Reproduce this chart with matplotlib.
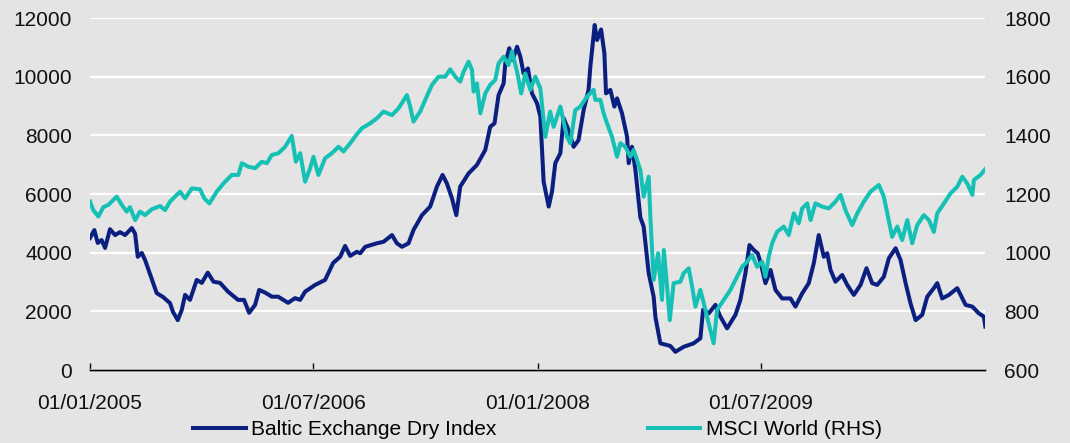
import numpy as np
import pandas as pd
import matplotlib
matplotlib.use('Agg')
from matplotlib import pyplot as plt

# Baltic Exchange Dry Index (left axis), dates as decimal years
bdi_years = [2005.000, 2005.029, 2005.052, 2005.078, 2005.101, 2005.134, 2005.168, 2005.201,
             2005.235, 2005.280, 2005.302, 2005.320, 2005.347, 2005.369, 2005.447, 2005.489,
             2005.536, 2005.556, 2005.588, 2005.615, 2005.637, 2005.670, 2005.715, 2005.749,
             2005.789, 2005.827, 2005.871, 2005.925, 2005.992, 2006.032, 2006.066, 2006.106,
             2006.133, 2006.173, 2006.218, 2006.260, 2006.327, 2006.374, 2006.408, 2006.441,
             2006.508, 2006.575, 2006.629, 2006.676, 2006.709, 2006.743, 2006.788, 2006.810,
             2006.844, 2006.922, 2006.966, 2007.023, 2007.056, 2007.090, 2007.134, 2007.167,
             2007.224, 2007.279, 2007.324, 2007.362, 2007.391, 2007.425, 2007.454, 2007.480,
             2007.536, 2007.592, 2007.648, 2007.681, 2007.710, 2007.737, 2007.771, 2007.782,
             2007.809, 2007.831, 2007.861, 2007.883, 2007.905, 2007.934, 2007.961, 2007.995,
             2008.017, 2008.039, 2008.073, 2008.095, 2008.117, 2008.151, 2008.173, 2008.206,
             2008.240, 2008.273, 2008.307, 2008.340, 2008.352, 2008.381, 2008.397, 2008.424,
             2008.446, 2008.457, 2008.486, 2008.513, 2008.531, 2008.564, 2008.598, 2008.609,
             2008.631, 2008.654, 2008.687, 2008.709, 2008.743, 2008.776, 2008.788, 2008.821,
             2008.888, 2008.922, 2008.977, 2009.044, 2009.089, 2009.107, 2009.145, 2009.190,
             2009.223, 2009.268, 2009.324, 2009.357, 2009.391, 2009.418, 2009.447, 2009.473,
             2009.491, 2009.525, 2009.559, 2009.592, 2009.637, 2009.693, 2009.726, 2009.771,
             2009.815, 2009.849, 2009.882, 2009.916, 2009.939, 2009.961, 2009.994, 2010.039,
             2010.073, 2010.117, 2010.162, 2010.202, 2010.240, 2010.274, 2010.318, 2010.352,
             2010.397, 2010.430, 2010.464, 2010.497, 2010.531, 2010.575, 2010.609, 2010.653,
             2010.676, 2010.709, 2010.754, 2010.810, 2010.866, 2010.911, 2010.955, 2010.988,
             2010.998]
bdi_values = [4500, 4770, 4330, 4430, 4160, 4800, 4600, 4700,
              4600, 4840, 4650, 3860, 3990, 3750, 2620, 2490,
              2280, 1980, 1700, 2050, 2560, 2390, 3070, 2970,
              3320, 3010, 2970, 2670, 2390, 2390, 1950, 2220,
              2730, 2640, 2500, 2500, 2290, 2450, 2390, 2670,
              2900, 3070, 3650, 3860, 4230, 3890, 4030, 3980,
              4200, 4320, 4370, 4600, 4320, 4200, 4320, 4770,
              5280, 5570, 6250, 6650, 6360, 5850, 5280, 6250,
              6700, 6990, 7500, 8290, 8410, 9370, 9770, 10450,
              10970, 10570, 11020, 10680, 10110, 10280, 9430, 9090,
              8640, 6420, 5570, 6080, 7050, 7390, 8580, 8180,
              7610, 7840, 8860, 9550, 10340, 11760, 11250, 11610,
              10800, 9430, 9550, 8980, 9260, 8750, 7950, 7050,
              7610, 6820, 5200, 4890, 3300, 2500, 1800, 910,
              820, 620, 790, 910, 1080, 2050, 1930, 2220,
              1820, 1420, 1880, 2390, 3300, 4260, 4090, 3980,
              3690, 2960, 3410, 2730, 2440, 2440, 2160, 2610,
              2960, 3640, 4600, 3860, 3980, 3410, 3010, 3240,
              2900, 2560, 2900, 3470, 2960, 2900, 3180, 3810,
              4150, 3750, 2960, 2270, 1700, 1880, 2500, 2790,
              2960, 2440, 2560, 2790, 2220, 2160, 1930, 1820,
              1480]

# MSCI World (right axis)
msci_years = [2005.000, 2005.022, 2005.056, 2005.089, 2005.123, 2005.179, 2005.213, 2005.246,
              2005.268, 2005.302, 2005.335, 2005.369, 2005.414, 2005.469, 2005.503, 2005.536,
              2005.603, 2005.637, 2005.682, 2005.737, 2005.766, 2005.800, 2005.849, 2005.894,
              2005.950, 2005.994, 2006.017, 2006.061, 2006.106, 2006.151, 2006.185, 2006.218,
              2006.262, 2006.307, 2006.352, 2006.379, 2006.408, 2006.441, 2006.475, 2006.497,
              2006.530, 2006.575, 2006.620, 2006.665, 2006.698, 2006.743, 2006.776, 2006.821,
              2006.877, 2006.922, 2006.966, 2007.023, 2007.067, 2007.123, 2007.145, 2007.167,
              2007.212, 2007.246, 2007.291, 2007.335, 2007.380, 2007.413, 2007.447, 2007.480,
              2007.503, 2007.536, 2007.559, 2007.570, 2007.592, 2007.615, 2007.648, 2007.681,
              2007.715, 2007.737, 2007.771, 2007.804, 2007.827, 2007.861, 2007.889, 2007.916,
              2007.950, 2007.983, 2008.017, 2008.050, 2008.083, 2008.106, 2008.151, 2008.195,
              2008.218, 2008.251, 2008.285, 2008.330, 2008.374, 2008.385, 2008.419, 2008.441,
              2008.464, 2008.497, 2008.531, 2008.553, 2008.586, 2008.620, 2008.642, 2008.687,
              2008.709, 2008.743, 2008.754, 2008.776, 2008.806, 2008.832, 2008.844, 2008.866,
              2008.884, 2008.910, 2008.955, 2008.977, 2009.011, 2009.034, 2009.056, 2009.089,
              2009.112, 2009.145, 2009.178, 2009.201, 2009.246, 2009.290, 2009.335, 2009.369,
              2009.402, 2009.436, 2009.469, 2009.503, 2009.525, 2009.547, 2009.570, 2009.603,
              2009.648, 2009.681, 2009.715, 2009.748, 2009.771, 2009.805, 2009.827, 2009.860,
              2009.905, 2009.950, 2009.994, 2010.028, 2010.061, 2010.106, 2010.140, 2010.184,
              2010.229, 2010.285, 2010.318, 2010.341, 2010.374, 2010.408, 2010.441, 2010.475,
              2010.508, 2010.542, 2010.586, 2010.620, 2010.653, 2010.676, 2010.721, 2010.765,
              2010.810, 2010.844, 2010.877, 2010.911, 2010.922, 2010.966, 2010.998]
msci_values = [1174, 1145, 1123, 1155, 1163, 1191, 1163, 1140,
               1155, 1111, 1140, 1128, 1148, 1159, 1145, 1174,
               1208, 1185, 1219, 1216, 1185, 1168, 1208, 1236,
               1265, 1265, 1305, 1293, 1288, 1310, 1305, 1333,
               1339, 1361, 1398, 1310, 1339, 1242, 1288, 1327,
               1265, 1322, 1339, 1361, 1345, 1373, 1396, 1424,
               1441, 1458, 1481, 1469, 1492, 1537, 1498, 1447,
               1481, 1521, 1572, 1600, 1600, 1625, 1600, 1583,
               1617, 1651, 1623, 1549, 1577, 1475, 1543, 1572,
               1589, 1645, 1668, 1640, 1686, 1617, 1543, 1611,
               1555, 1600, 1560, 1395, 1481, 1429, 1498, 1395,
               1373, 1486, 1498, 1532, 1555, 1521, 1521, 1475,
               1441, 1395, 1327, 1373, 1361, 1327, 1350, 1282,
               1191, 1259, 1123, 907, 998, 839, 1009, 884,
               770, 896, 901, 930, 947, 884, 816, 873,
               827, 759, 691, 805, 839, 873, 918, 952,
               969, 992, 952, 969, 918, 986, 1032, 1071,
               1089, 1060, 1134, 1100, 1151, 1168, 1111, 1168,
               1157, 1151, 1174, 1197, 1145, 1094, 1134, 1174,
               1208, 1231, 1191, 1134, 1054, 1089, 1043, 1111,
               1032, 1094, 1128, 1111, 1071, 1134, 1168, 1202,
               1225, 1259, 1236, 1197, 1248, 1265, 1285]

tick_dates = ['2005-01-01', '2006-07-01', '2008-01-01', '2009-07-01']
tick_labels = ['01/01/2005', '01/07/2006', '01/01/2008', '01/07/2009']


def to_dates(years):
    years = np.array(years)
    start = pd.Timestamp('2005-01-01')
    return start + pd.to_timedelta((years - 2005) * 365.25, unit='D')


plt.rcParams['font.family'] = ['Liberation Sans', 'DejaVu Sans']
bg = '#e4e4e4'
navy = '#0a1f7f'
teal = '#15c0b4'

fig = plt.figure(figsize=(10.70, 4.43), dpi=100, facecolor=bg)
ax = fig.add_axes([90 / 1070, 1 - 370 / 443, 895 / 1070, 352 / 443])
ax.set_facecolor(bg)

l1, = ax.plot(to_dates(bdi_years), bdi_values, color=navy, linewidth=2.9,
              label='Baltic Exchange Dry Index', zorder=3)
ax.set_ylim(0, 12000)
ax.set_yticks(np.arange(0, 12001, 2000))
ax.grid(axis='y', color='white', linewidth=1.6, zorder=0)
ax.set_axisbelow(True)

ax2 = ax.twinx()
l2, = ax2.plot(to_dates(msci_years), msci_values, color=teal, linewidth=2.9,
               label='MSCI World (RHS)')
ax2.set_ylim(600, 1800)
ax2.set_yticks(np.arange(600, 1801, 200))

ax.set_xlim(pd.Timestamp('2005-01-01'), pd.Timestamp('2010-12-31'))
ax.set_xticks(pd.to_datetime(tick_dates))
ax.set_xticklabels(tick_labels)

for a in (ax, ax2):
    for s in ('left', 'right', 'top'):
        a.spines[s].set_visible(False)
    a.spines['bottom'].set_color('black')
    a.spines['bottom'].set_linewidth(1.0)

ax.tick_params(axis='x', direction='in', length=5, width=1, color='black',
               labelsize=15, pad=17, labelcolor='#111111')
ax.tick_params(axis='y', length=0, labelsize=15, pad=13, labelcolor='#111111')
ax2.tick_params(axis='y', length=0, labelsize=15, pad=14, labelcolor='#111111')

ax.legend(handles=[l1, l2], loc='center', bbox_to_anchor=(0.5, -0.17), ncol=2,
          frameon=False, fontsize=15, handlelength=2.5, handletextpad=0.25,
          columnspacing=7.3)

fig.savefig('out.png', dpi=100, facecolor=bg)
